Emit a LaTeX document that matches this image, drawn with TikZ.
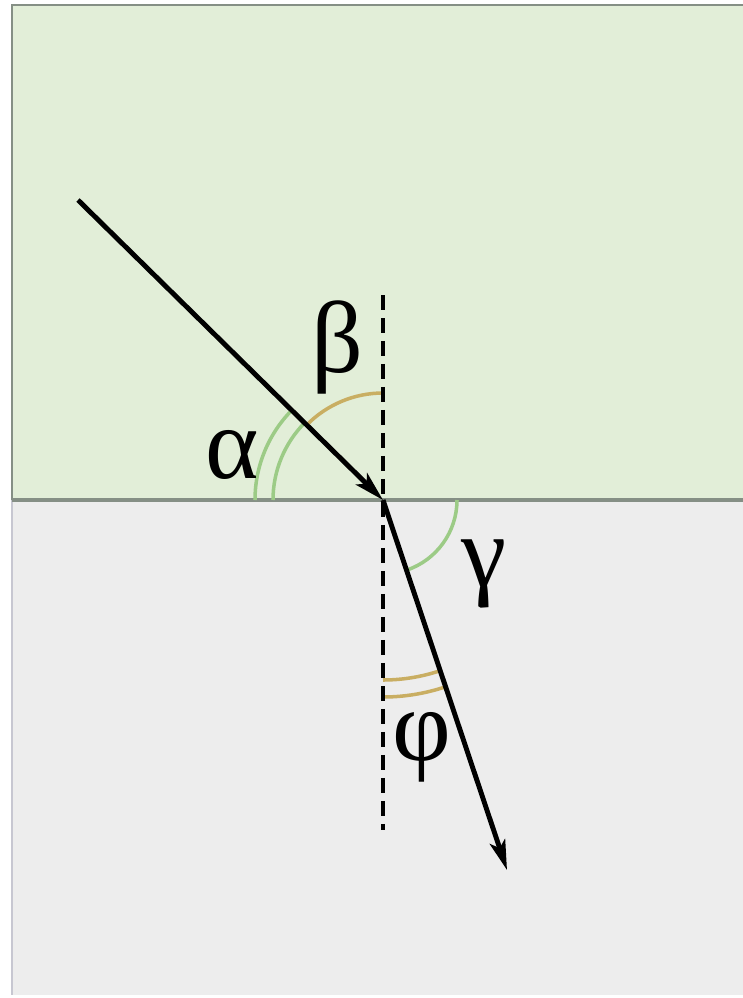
\documentclass[tikz,border=0pt]{standalone}
\usepackage{fontspec}
\setmainfont{Liberation Serif}
\usetikzlibrary{arrows.meta}
\definecolor{glass}{HTML}{E2EED8}
\definecolor{water}{HTML}{EDEDED}
\definecolor{edge}{HTML}{858F85}
\definecolor{arcgreen}{HTML}{9CCB86}
\definecolor{arcgold}{HTML}{C9AE62}

\begin{document}
\begin{tikzpicture}[x=0.02cm, y=-0.02cm, >={Stealth[length=0.6cm, width=0.32cm, inset=0.14cm]},
  ray/.style={line width=2.8pt, ->},
  normal/.style={line width=1.8pt, dash pattern=on 0.3cm off 0.16cm},
  ang/.style={line width=2pt},
  lbl/.style={font=\fontsize{58}{68}\selectfont, inner sep=0pt}]
  \useasboundingbox (0,0) rectangle (743,998);
  % media
  \fill[glass] (12,5) rectangle (743,500);
  \fill[water] (12,500) rectangle (743,995);
  \draw[edge, line width=1.2pt] (743,5) -- (12,5) -- (12,500);
  \draw[blue!10!gray!40, line width=1.2pt] (12,500) -- (12,995);
  \draw[edge, line width=2.4pt] (12,500) -- (743,500);

  \coordinate (O) at (383,500);
  \coordinate (S) at (78,200);
  \coordinate (E) at (507,870);
  \coordinate (Ntop) at (383,295);
  \coordinate (Nbot) at (383,830);

  % angles
  \draw[ang, arcgreen] (O) ++(180:128) arc[start angle=180, end angle=224.5, radius=128];
  \draw[ang, arcgreen] (O) ++(180:110) arc[start angle=180, end angle=224.5, radius=110];
  \draw[ang, arcgold] (O) ++(224.5:107) arc[start angle=224.5, end angle=270, radius=107];
  \draw[ang, arcgreen] (O) ++(0:74) arc[start angle=0, end angle=71.4, radius=74];
  \draw[ang, arcgold] (O) ++(71.4:180) arc[start angle=71.4, end angle=90, radius=180];
  \draw[ang, arcgold] (O) ++(71.4:197) arc[start angle=71.4, end angle=90, radius=197];

  \draw[normal] (Ntop) -- (Nbot);
  \draw[ray] (S) -- (O);
  \draw[ray] (O) -- (E);

  \node[lbl] (beta) at (337,347) {β};
  \node[lbl] (alpha) at (232,455) {α};
  \node[lbl] (gamma) at (484,574) {γ};
  \node[lbl] (phi) at (422,747) {φ};
\end{tikzpicture}
\end{document}
